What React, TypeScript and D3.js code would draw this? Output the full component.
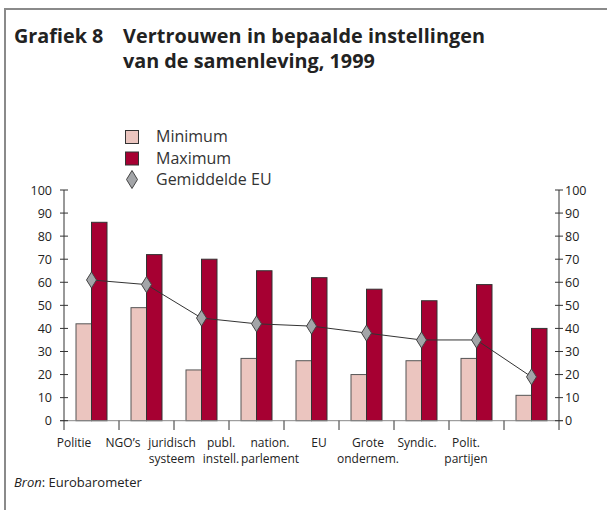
import { useEffect, useRef } from "react"
import * as d3 from "d3"

const categories = ["Politie", "NGO’s", "juridisch systeem", "publ. instell.", "nation. parlement", "EU", "Grote ondernem.", "Syndic.", "Polit. partijen"]
const labelLines = [["Politie"], ["NGO’s"], ["juridisch", "systeem"], ["publ.", "instell."], ["nation.", "parlement"], ["EU"], ["Grote", "ondernem."], ["Syndic."], ["Polit.", "partijen"]]
const minimum = [42, 49, 22, 27, 26, 20, 26, 27, 11]
const maximum = [86, 72, 70, 65, 62, 57, 52, 59, 40]
const gemiddelde = [61, 59, 44.5, 42, 41, 38, 35, 35, 19]
const yTicks = [0, 10, 20, 30, 40, 50, 60, 70, 80, 90, 100]
const legendItems = ["Minimum", "Maximum", "Gemiddelde EU"]

const FONT = "'Open Sans', sans-serif"
const MIN_FILL = "#ebc5bf"
const MAX_FILL = "#a60032"
const DIAMOND_FILL = "#a3a5a8"

export default function App() {
    const ref = useRef<SVGSVGElement>(null)

    useEffect(() => {
        const svg = d3.select(ref.current)
        svg.selectAll("*").remove()

        const left = 64
        const right = 559
        const bottom = 420.7
        const top = 190

        const x = d3.scaleBand<string>().domain(categories).range([left, right])
        const y = d3.scaleLinear().domain([0, 100]).range([bottom, top])
        // labels in the original sit on their own (tighter) spacing
        const xLabel = d3.scalePoint<string>().domain(categories).range([74, 466])
        const barW = 15.5

        // frame
        svg.append("path")
            .attr("d", "M5,510 V9 H607")
            .attr("fill", "none")
            .attr("stroke", "#8a8a8a")
            .attr("stroke-width", 2)

        // title
        const title = svg.append("g")
            .attr("font-family", FONT).attr("font-weight", 700).attr("font-size", 19.8)
            .attr("fill", "#222")
        title.append("text").attr("x", 14).attr("y", 43).text("Grafiek 8")
        title.append("text").attr("x", 123).attr("y", 43).attr("textLength", 362).text("Vertrouwen in bepaalde instellingen")
        title.append("text").attr("x", 123).attr("y", 68).text("van de samenleving, 1999")

        // legend
        const lg = svg.append("g").attr("font-family", FONT).attr("font-size", 16).attr("fill", "#333")
        legendItems.forEach((name, i) => {
            const cy = 136.5 + i * 21.5
            if (i < 2) {
                lg.append("rect")
                    .attr("x", 125.5).attr("y", cy - 6).attr("width", 13).attr("height", 13)
                    .attr("fill", i === 0 ? MIN_FILL : MAX_FILL)
                    .attr("stroke", "#333").attr("stroke-width", 1)
            } else {
                lg.append("path")
                    .attr("d", `M132,${cy - 9} L137.5,${cy} L132,${cy + 9} L126.5,${cy} Z`)
                    .attr("fill", DIAMOND_FILL).attr("stroke", "#444").attr("stroke-width", 1)
            }
            lg.append("text")
                .attr("x", 156).attr("y", cy + 5.5)
                .text(name)
        })

        const g = svg.append("g")

        // bars
        g.selectAll("rect.min")
            .data(categories)
            .join("rect")
            .attr("class", "min")
            .attr("x", d => x(d)! + x.bandwidth() / 2 - barW)
            .attr("y", (d, i) => y(minimum[i]))
            .attr("width", barW)
            .attr("height", (d, i) => bottom - y(minimum[i]))
            .attr("fill", MIN_FILL)
            .attr("stroke", "#555").attr("stroke-width", 1)

        g.selectAll("rect.max")
            .data(categories)
            .join("rect")
            .attr("class", "max")
            .attr("x", d => x(d)! + x.bandwidth() / 2)
            .attr("y", (d, i) => y(maximum[i]))
            .attr("width", barW)
            .attr("height", (d, i) => bottom - y(maximum[i]))
            .attr("fill", MAX_FILL)
            .attr("stroke", "#333").attr("stroke-width", 1)

        // axes
        const axisColor = "#333"
        const ax = svg.append("g").attr("stroke", axisColor).attr("stroke-width", 1)
        ax.append("line").attr("x1", 60).attr("x2", right + 4).attr("y1", bottom).attr("y2", bottom).attr("stroke", "#888")
        ax.append("line").attr("x1", left).attr("x2", left).attr("y1", top).attr("y2", 430)
        ax.append("line").attr("x1", right).attr("x2", right).attr("y1", top).attr("y2", 430)
        yTicks.forEach(t => {
            ax.append("line").attr("x1", left - 4).attr("x2", left + 4).attr("y1", y(t)).attr("y2", y(t))
            ax.append("line").attr("x1", right - 4).attr("x2", right + 4).attr("y1", y(t)).attr("y2", y(t))
        })
        categories.slice(1).forEach(c => {
            ax.append("line").attr("x1", x(c)!).attr("x2", x(c)!).attr("y1", bottom).attr("y2", 430)
        })

        const tl = svg.append("g").attr("font-family", FONT).attr("font-size", 12.5).attr("fill", "#222")
        yTicks.forEach(t => {
            tl.append("text").attr("x", 52).attr("y", y(t)).attr("dy", "0.36em").attr("text-anchor", "end").text(t)
            tl.append("text").attr("x", 565).attr("y", y(t)).attr("dy", "0.36em").text(t)
        })

        // average line + diamonds
        const line = d3.line<number>()
            .x((d, i) => x(categories[i])! + x.bandwidth() / 2)
            .y(d => y(d))
        g.append("path")
            .attr("d", line(gemiddelde))
            .attr("fill", "none")
            .attr("stroke", "#333").attr("stroke-width", 1)

        g.selectAll("path.diamond")
            .data(gemiddelde)
            .join("path")
            .attr("class", "diamond")
            .attr("transform", (d, i) => `translate(${x(categories[i])! + x.bandwidth() / 2},${y(d)})`)
            .attr("d", "M0,-8 L5,0 L0,8 L-5,0 Z")
            .attr("fill", DIAMOND_FILL)
            .attr("stroke", "#444").attr("stroke-width", 1)

        // category labels
        const xl = svg.append("g").attr("font-family", FONT).attr("font-size", 12).attr("fill", "#222").attr("text-anchor", "middle")
        categories.forEach((c, i) => {
            labelLines[i].forEach((ln, j) => {
                xl.append("text").attr("x", xLabel(c)!).attr("y", 447 + j * 16).text(ln)
            })
        })

        // source
        const src = svg.append("text").attr("x", 14).attr("y", 487).attr("font-family", FONT).attr("font-size", 13).attr("fill", "#222")
        src.append("tspan").attr("font-style", "italic").text("Bron")
        src.append("tspan").text(": Eurobarometer")
    }, [])

    return (
        <svg
            ref={ref}
            width={607}
            height={510}
            style={{ position: "absolute", left: 0, top: 0, background: "#fff" }}
        />
    )
}
